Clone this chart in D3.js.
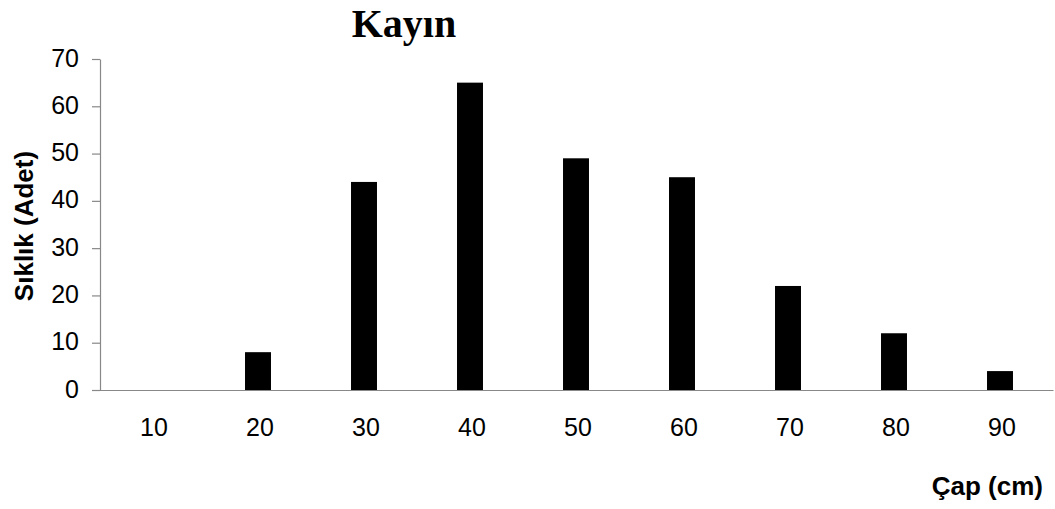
<!DOCTYPE html>
<html>
<head>
<meta charset="utf-8">
<script src="https://cdn.jsdelivr.net/npm/d3@7"></script>
<style>
  html, body { margin: 0; padding: 0; background: #fff; }
  svg { display: block; }
  .tick text { font-family: "Liberation Sans", Arial, sans-serif; fill: #000; }
</style>
</head>
<body>
<svg id="chart" width="1055" height="509"></svg>
<script>
// Diameter classes (cm) and tree counts
const diameterClasses = ["10", "20", "30", "40", "50", "60", "70", "80", "90"];
const treeCounts = [0, 8, 44, 65, 49, 45, 22, 12, 4];
const yTicks = [0, 10, 20, 30, 40, 50, 60, 70];

const chartTitle = "Kayın";
const xTitle = "Çap (cm)";
const yTitle = "Sıklık (Adet)";

const svg = d3.select("#chart");
const margin = { left: 100, right: 1, top: 59, bottom: 119 };
const W = 1055, H = 509;

const x = d3.scaleBand()
  .domain(diameterClasses)
  .range([margin.left - 1, W - margin.right - 1])
  .paddingInner(0.755)
  .paddingOuter(0.3775);

const y = d3.scaleLinear()
  .domain([0, 70])
  .range([H - margin.bottom, margin.top]);

// Bars
svg.append("g")
  .selectAll("rect")
  .data(diameterClasses.map((c, i) => ({ c, v: treeCounts[i] })))
  .join("rect")
  .attr("x", d => x(d.c))
  .attr("y", d => y(d.v))
  .attr("width", x.bandwidth())
  .attr("height", d => y(0) - y(d.v))
  .attr("fill", "#000");

// Y axis
const yAxis = svg.append("g")
  .attr("transform", `translate(${margin.left},0)`)
  .call(d3.axisLeft(y).tickValues(yTicks).tickSize(8).tickPadding(13).tickSizeOuter(0));
yAxis.select(".domain").attr("stroke", "#888").attr("stroke-width", 1.2);
yAxis.selectAll(".tick line").attr("stroke", "#888").attr("stroke-width", 1.2);
yAxis.selectAll(".tick text").attr("font-size", 25).attr("dy", "0.28em");

// X axis (baseline only, no tick marks)
const xAxis = svg.append("g")
  .attr("transform", `translate(0,${y(0)})`)
  .call(d3.axisBottom(x).tickSize(0).tickPadding(28));
xAxis.select(".domain").attr("stroke", "#888").attr("stroke-width", 1.2);
xAxis.selectAll(".tick text").attr("font-size", 25).attr("dx", 2);

// Title
svg.append("text")
  .attr("x", 404).attr("y", 37)
  .attr("text-anchor", "middle")
  .attr("font-family", "Liberation Serif, Times New Roman, serif")
  .attr("font-weight", "bold")
  .attr("font-size", 40)
  .text(chartTitle);

// Axis titles
svg.append("text")
  .attr("x", 1043).attr("y", 495)
  .attr("text-anchor", "end")
  .attr("font-family", "Liberation Sans, Arial, sans-serif")
  .attr("font-weight", "bold")
  .attr("font-size", 26)
  .text(xTitle);

svg.append("text")
  .attr("transform", "translate(33,226) rotate(-90)")
  .attr("text-anchor", "middle")
  .attr("font-family", "Liberation Sans, Arial, sans-serif")
  .attr("font-weight", "bold")
  .attr("font-size", 26)
  .text(yTitle);
</script>
</body>
</html>
